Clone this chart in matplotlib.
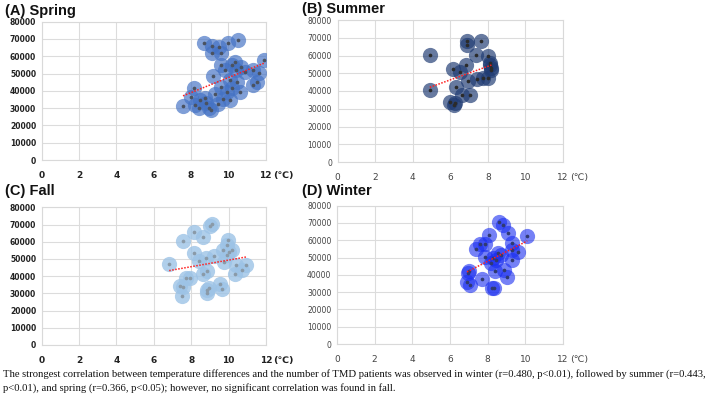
import numpy as np
import matplotlib
matplotlib.use("Agg")
import matplotlib.pyplot as plt

# ---------------- data ----------------
spring_x = [7.57, 8.14, 8.02, 8.2, 8.43, 8.5, 8.73, 8.8, 8.98, 9.05, 8.71, 9.13, 9.13, 9.5, 9.59,
            10.0, 10.5, 9.2, 9.3, 9.46, 9.59, 9.7, 9.59, 9.82, 9.93, 10.1, 10.1, 10.2, 10.36, 10.45,
            10.4, 10.6, 10.7, 10.9, 11.3, 11.34, 11.55, 11.66, 11.9, 10.2]
spring_y = [31400, 41400, 36600, 31800, 29900, 34700, 36000, 32800, 29900, 28900, 67800, 66100, 61700, 65500, 62000,
            67800, 69400, 48600, 38100, 32400, 42000, 35100, 54900, 52000, 39500, 34700, 46200, 41400, 56800, 45300,
            52000, 39500, 53900, 51100, 52000, 43400, 45300, 50500, 57800, 54900]

summer_x = [4.91, 4.91, 6.9, 6.9, 7.65, 7.39, 8.0, 6.83, 6.15, 6.51, 8.1, 8.19, 8.14, 6.92, 7.43,
            7.75, 8.0, 6.33, 6.6, 7.04, 6.01, 6.21, 6.24, 8.19]
summer_y = [60300, 40500, 68400, 65900, 68400, 60300, 59700, 54600, 52400, 50800, 54600, 52700, 55600, 45600, 46700,
            47100, 47100, 42000, 37700, 38000, 33900, 32000, 33000, 51800]

fall_x = [6.82, 7.55, 7.57, 7.5, 7.41, 7.73, 7.95, 8.13, 8.16, 8.61, 8.43, 8.61, 8.79, 8.93, 8.84,
          8.87, 8.87, 8.98, 9.11, 9.2, 9.55, 9.64, 9.68, 9.91, 9.95, 10.0, 9.9, 9.73, 10.36, 10.41,
          10.7, 10.93, 10.18]
fall_y = [46900, 60500, 33500, 28700, 34500, 38800, 39100, 53700, 65900, 62600, 48800, 41300, 50400, 32900, 32000,
          30400, 43200, 69200, 70200, 51700, 35500, 32600, 55200, 58100, 61000, 54300, 52300, 48400, 41300, 46500,
          43600, 46500, 55200]

winter_x = [6.93, 7.0, 6.9, 7.06, 7.38, 7.61, 7.88, 7.7, 7.88, 8.09, 8.24, 8.36, 8.4, 8.18, 8.54,
            8.59, 8.81, 9.07, 9.27, 8.89, 9.04, 9.27, 9.3, 9.6, 10.1, 8.72, 8.45, 8.3]
winter_y = [41000, 42000, 35800, 34200, 55000, 57700, 57900, 37700, 50600, 63100, 32300, 32300, 42300, 46700, 52500,
            70800, 68800, 64000, 58700, 42900, 38500, 48700, 54400, 53100, 62700, 51500, 48700, 49500]

titles = ["(A) Spring", "(B) Summer", "(C) Fall", "(D) Winter"]
x_ticks = [0, 2, 4, 6, 8, 10, 12]
y_ticks = [0, 10000, 20000, 30000, 40000, 50000, 60000, 70000, 80000]
caption = ("The strongest correlation between temperature differences and the number of TMD patients was observed in winter (r=0.480, p<0.01), followed by summer (r=0.443,\n"
           "p<0.01), and spring (r=0.366, p<0.05); however, no significant correlation was found in fall.")

# ---------------- layout ----------------
W, H = 709, 399
fig = plt.figure(figsize=(W / 100, H / 100), dpi=100)
fig.patch.set_facecolor("white")

def px_rect(l, r, t, b):
    return [l / W, 1 - b / H, (r - l) / W, (b - t) / H]

panels = [
    dict(x=spring_x, y=spring_y, rect=px_rect(41.7, 265.7, 21.7, 160), color="#4472C4", alpha=0.68,
         dot="#4a5260", bold=True, title_xy=(5, 11)),
    dict(x=summer_x, y=summer_y, rect=px_rect(337.5, 563, 20, 162), color="#1F3B73", alpha=0.68,
         dot="#2b2b2b", bold=False, title_xy=(302, 9)),
    dict(x=fall_x, y=fall_y, rect=px_rect(41.7, 266, 207.3, 345), color="#9DC3E6", alpha=0.8,
         dot="#8a9aa8", bold=True, title_xy=(5, 191)),
    dict(x=winter_x, y=winter_y, rect=px_rect(337, 563, 205.7, 344), color="#1A2EF0", alpha=0.6,
         dot="#303a70", bold=False, title_xy=(302, 191)),
]

for p, title in zip(panels, titles):
    ax = fig.add_axes(p["rect"])
    xs = np.array(p["x"])
    ys = np.array(p["y"])
    ax.scatter(xs, ys, s=120, c=p["color"], alpha=p["alpha"], linewidths=0, zorder=3)
    ax.scatter(xs, ys, s=7, c=p["dot"], linewidths=0, zorder=5)
    k, b0 = np.polyfit(xs, ys, 1)
    lx = np.array([xs.min(), xs.max()])
    ax.plot(lx, k * lx + b0, color="#FF2020", linestyle=(0, (1, 1)), linewidth=1.1, zorder=6)

    ax.set_xlim(0, 12)
    ax.set_ylim(0, 80000)
    ax.set_xticks(x_ticks)
    ax.set_yticks(y_ticks)
    weight = "bold" if p["bold"] else "normal"
    tcolor = "#222222" if p["bold"] else "#444444"
    ax.set_xticklabels([str(t) for t in x_ticks], fontsize=6.5, fontweight=weight, color=tcolor)
    ax.set_yticklabels([str(t) for t in y_ticks], fontsize=5.5, fontweight=weight, color=tcolor)
    ax.tick_params(length=0, pad=4)
    ax.tick_params(axis="x", pad=8)
    ax.grid(True, color="#dcdcdc", linewidth=0.8)
    ax.set_axisbelow(True)
    for s in ax.spines.values():
        s.set_color("#d9d9d9")
        s.set_linewidth(0.8)
    # unit label next to last tick
    ax.annotate("(℃)", xy=(12, 0), xycoords=("data", "axes fraction"), xytext=(5, -8),
                textcoords="offset points", fontsize=6.8, fontweight=weight, color=tcolor,
                ha="left", va="top", annotation_clip=False)
    tx, ty = p["title_xy"]
    fig.text(tx / W, 1 - ty / H, title, fontsize=10.5, fontweight="bold", family="Liberation Sans",
             ha="left", va="center", color="#111111")

fig.text(3 / W, 1 - 381 / H, caption, fontsize=7.66, family="Liberation Serif", ha="left",
         va="center", linespacing=1.45, color="#111111")

fig.savefig("out.png", dpi=100)
